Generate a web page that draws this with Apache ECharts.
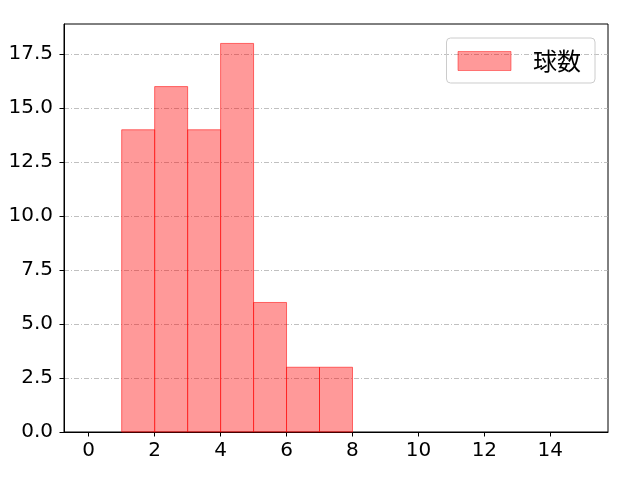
<!DOCTYPE html>
<html><head><meta charset="utf-8">
<script src="https://cdn.jsdelivr.net/npm/echarts@6/dist/echarts.min.js"></script>
<style>html,body{margin:0;padding:0;background:#fff}#c{width:640px;height:480px}</style>
</head><body><div id="c"></div>
<script>
const binStarts = [1, 2, 3, 4, 5, 6, 7];
const binEnds   = [2, 3, 4, 5, 6, 7, 8];
const counts    = [14, 16, 14, 18, 6, 3, 3];
const xTicks = [0, 2, 4, 6, 8, 10, 12, 14];
const yTicks = [0, 2.5, 5, 7.5, 10, 12.5, 15, 17.5];
const seriesName = '球数';

const data = binStarts.map((s, i) => [s, binEnds[i], counts[i]]);
const NUMFONT = '"DejaVu Sans", sans-serif';
const CJKFONT = '"Noto Sans CJK JP", sans-serif';
const chart = echarts.init(document.getElementById('c'));
chart.setOption({
  animation: false,
  grid: { left: 64, right: 32, top: 24, bottom: 48, show: true, borderColor: '#000', borderWidth: 1, backgroundColor: 'transparent' },
  legend: {
    right: 45, top: 38,
    padding: [11, 14, 10, 11],
    borderColor: '#cccccc', borderWidth: 1, borderRadius: 4,
    itemWidth: 53, itemHeight: 19,
    textStyle: { fontFamily: CJKFONT, fontSize: 24, color: '#000', padding: [0, 0, 0, 17] },
    data: [{ name: seriesName, icon: 'rect', itemStyle: { color: 'rgba(255,0,0,0.4)', borderColor: 'rgba(255,0,0,0.45)', borderWidth: 1 } }]
  },
  xAxis: {
    type: 'value', min: -0.75, max: 15.75,
    axisLine: { show: true, onZero: false, lineStyle: { color: '#000', width: 1 } },
    axisTick: { show: true, length: 4.5, customValues: xTicks, lineStyle: { color: '#000' } },
    axisLabel: { customValues: xTicks, fontFamily: NUMFONT, fontSize: 20, color: '#000', margin: 9 },
    splitLine: { show: false }
  },
  yAxis: {
    type: 'value', min: 0, max: 18.9, interval: 2.5,
    axisLine: { show: true, onZero: false, lineStyle: { color: '#000', width: 1 } },
    axisTick: { show: true, length: 4.5, customValues: yTicks, lineStyle: { color: '#000' } },
    axisLabel: { customValues: yTicks, fontFamily: NUMFONT, fontSize: 20, color: '#000', margin: 11, formatter: v => v.toFixed(1) },
    splitLine: { show: true, lineStyle: { color: '#b0b0b0', width: 0.8, type: [5, 2, 1, 2] } }
  },
  series: [{
    name: seriesName,
    type: 'custom',
    itemStyle: { color: 'rgba(255,0,0,0.4)' },
    renderItem: (params, api) => {
      const p0 = api.coord([api.value(0), api.value(2)]);
      const p1 = api.coord([api.value(1), 0]);
      return {
        type: 'rect',
        shape: { x: p0[0], y: p0[1], width: p1[0] - p0[0], height: p1[1] - p0[1] },
        style: { fill: 'rgba(255,0,0,0.4)', stroke: 'rgba(255,0,0,0.55)', lineWidth: 1 }
      };
    },
    encode: { x: [0, 1], y: 2 },
    data: data
  }]
});
</script></body></html>
